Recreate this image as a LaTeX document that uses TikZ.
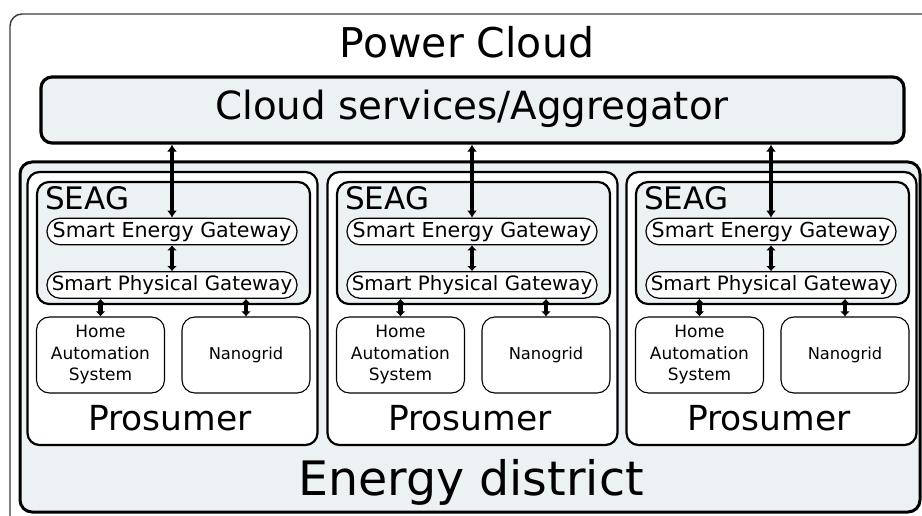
\documentclass[tikz,border=0pt]{standalone}
\usepackage{fontspec}
\setmainfont{DejaVu Sans}
\usetikzlibrary{arrows.meta}
\definecolor{panel}{RGB}{236,241,243}
\definecolor{frameline}{RGB}{60,60,60}

\begin{document}
\begin{tikzpicture}[x=1pt,y=-1pt,
  box/.style={draw, inner sep=0pt, anchor=center},
  outerframe/.style={box, draw=frameline, line width=1.4pt, rounded corners=12pt, fill=white},
  cloudbox/.style={box, line width=3.2pt, rounded corners=11pt, fill=panel},
  districtbox/.style={box, line width=3pt, rounded corners=12pt, fill=panel},
  prosbox/.style={box, line width=2.2pt, rounded corners=12pt, fill=white,
    minimum width=290pt, minimum height=273pt},
  seagbox/.style={box, line width=2.2pt, rounded corners=12pt, fill=panel,
    minimum width=273pt, minimum height=122pt},
  pill/.style={box, line width=1.2pt, rounded corners=13pt, fill=white,
    minimum width=250pt, minimum height=26.5pt},
  devbox/.style={box, line width=1.1pt, rounded corners=13pt, fill=white,
    minimum width=128pt, minimum height=76pt, align=center},
  bigarrow/.style={line width=4.5pt, {Latex[length=7pt,width=10pt]}-{Latex[length=7pt,width=10pt]}},
  smallarrow/.style={line width=4.2pt, {Latex[length=5pt,width=10pt]}-{Latex[length=5pt,width=10pt]}},
  label/.style={inner sep=0pt, anchor=base}
]
\useasboundingbox (0,0) rectangle (922,516);
\clip (0,0) rectangle (922,516);

% outer power cloud frame (runs past the right and bottom edges)
\node[outerframe, minimum width=930pt, minimum height=526pt] (power) at (475,277) {};
\node[label, font=\fontsize{41}{45}\selectfont] (powerlbl) at (467,58) {Power Cloud};

% aggregator
\node[cloudbox, minimum width=863pt, minimum height=66pt] (cloud) at (472.5,110) {};
\node[label, font=\fontsize{38.8}{42}\selectfont] (cloudlbl) at (472,120) {Cloud services/Aggregator};

% energy district
\node[districtbox, minimum width=900pt, minimum height=350pt] (district) at (470,337) {};
\node[label, font=\fontsize{47.5}{50}\selectfont] (districtlbl) at (471,495) {Energy district};

% three prosumers
\foreach \i/\dx in {1/0,2/300,3/599} {
  \begin{scope}[xshift=\dx pt]
    \node[prosbox] (pros\i) at (172.5,308.5) {};
    \node[label, font=\fontsize{34.5}{36}\selectfont] (proslbl\i) at (170,430) {Prosumer};
    \node[seagbox] (seag\i) at (173.5,243) {};
    \node[label, anchor=base west, font=\fontsize{31}{33}\selectfont] (seaglbl\i) at (45,210) {SEAG};
    \node[pill, font=\fontsize{20.6}{22}\selectfont] (seg\i) at (172,231.5) {Smart Energy Gateway};
    \node[pill, font=\fontsize{19.8}{22}\selectfont] (spg\i) at (172,285) {Smart Physical Gateway};
    \node[devbox, font=\fontsize{17}{21.5}\selectfont] (has\i) at (100.5,355) {Home\\Automation\\System};
    \node[devbox, font=\fontsize{16.3}{21.5}\selectfont] (nano\i) at (246,355) {Nanogrid};
  \end{scope}
  \draw[bigarrow] (cloud.south -| seg\i.north) -- (seg\i.north);
  \draw[smallarrow] (seg\i.south) -- (spg\i.north);
  \draw[smallarrow] (has\i.north |- spg\i.south) -- (has\i.north);
  \draw[smallarrow] (nano\i.north |- spg\i.south) -- (nano\i.north);
}
\end{tikzpicture}
\end{document}
